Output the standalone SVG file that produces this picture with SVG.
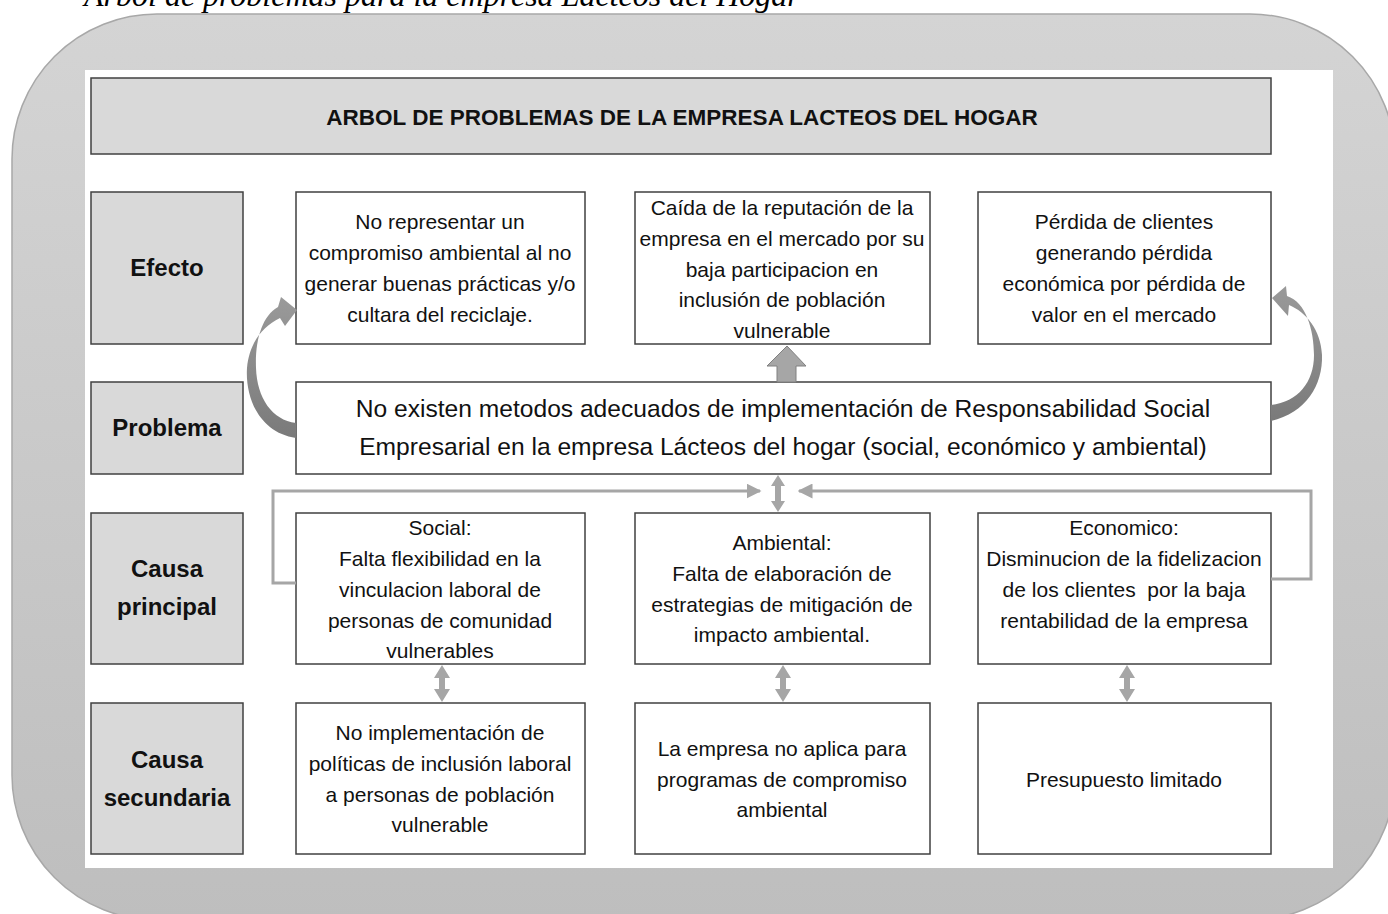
<svg xmlns="http://www.w3.org/2000/svg" width="1388" height="914" viewBox="0 0 1388 914">
<defs>
<linearGradient id="bg" x1="0" y1="0" x2="0" y2="1">
<stop offset="0" stop-color="#d4d4d4"/>
<stop offset="1" stop-color="#bebebe"/>
</linearGradient>
<linearGradient id="curv" x1="0" y1="0" x2="0" y2="1">
<stop offset="0" stop-color="#9a9a9a"/>
<stop offset="1" stop-color="#7a7a7a"/>
</linearGradient>
<marker id="ah" viewBox="0 0 10 10" refX="9" refY="5" markerWidth="5" markerHeight="5" orient="auto" markerUnits="strokeWidth">
<path d="M0,0 L10,5 L0,10 Z" fill="#a6a6a6"/>
</marker>
</defs>
<style>
.box{fill:#ffffff;stroke:#404040;stroke-width:1.5}
.lab{fill:#d9d9d9;stroke:#404040;stroke-width:1.5}
.t{font-family:"Liberation Sans",Arial,sans-serif;font-size:21px;fill:#111;text-anchor:middle}
.lt{font-family:"Liberation Sans",Arial,sans-serif;font-size:24px;font-weight:bold;fill:#111;text-anchor:middle}
.pt{font-family:"Liberation Sans",Arial,sans-serif;font-size:24.6px;fill:#111;text-anchor:middle}
.line{fill:none;stroke:#a6a6a6;stroke-width:3}
.dbl{fill:#a6a6a6}
.cap{font-family:"Liberation Serif","Times New Roman",serif;font-style:italic;font-size:32px;fill:#000}
</style>

<text class="cap" x="84" y="6">Arbol de problemas para la empresa Lacteos del Hogar</text>

<rect x="12" y="14" width="1383" height="906" rx="145" ry="145" fill="url(#bg)" stroke="#a8a8a8" stroke-width="1.5"/>
<rect x="85" y="70" width="1248" height="798" fill="#ffffff"/>

<g id="title">
<rect class="lab" x="91" y="78" width="1180" height="76"/>
<text x="682" y="125" font-family="Liberation Sans,Arial,sans-serif" font-size="22.5px" font-weight="bold" fill="#111" text-anchor="middle">ARBOL DE PROBLEMAS DE LA EMPRESA LACTEOS DEL HOGAR</text>
</g>

<g id="label-efecto">
<rect class="lab" x="91" y="192" width="152" height="152"/>
<text class="lt" x="167" y="276">Efecto</text>
</g>
<g id="label-problema">
<rect class="lab" x="91" y="382" width="152" height="92"/>
<text class="lt" x="167" y="436">Problema</text>
</g>
<g id="label-causa-principal">
<rect class="lab" x="91" y="513" width="152" height="151"/>
<text class="lt" x="167" y="577">Causa</text>
<text class="lt" x="167" y="615">principal</text>
</g>
<g id="label-causa-secundaria">
<rect class="lab" x="91" y="703" width="152" height="151"/>
<text class="lt" x="167" y="768">Causa</text>
<text class="lt" x="167" y="806">secundaria</text>
</g>

<g id="efecto-1">
<rect class="box" x="296" y="192" width="289" height="152"/>
<text class="t" x="440" y="229">No representar un</text>
<text class="t" x="440" y="260">compromiso ambiental al no</text>
<text class="t" x="440" y="291">generar buenas prácticas y/o</text>
<text class="t" x="440" y="322">cultara del reciclaje.</text>
</g>
<g id="efecto-2">
<rect class="box" x="635" y="192" width="295" height="152"/>
<text class="t" x="782" y="215">Caída de la reputación de la</text>
<text class="t" x="782" y="246">empresa en el mercado por su</text>
<text class="t" x="782" y="277">baja participacion en</text>
<text class="t" x="782" y="307">inclusión de población</text>
<text class="t" x="782" y="338">vulnerable</text>
</g>
<g id="efecto-3">
<rect class="box" x="978" y="192" width="293" height="152"/>
<text class="t" x="1124" y="229">Pérdida de clientes</text>
<text class="t" x="1124" y="260">generando pérdida</text>
<text class="t" x="1124" y="291">económica por pérdida de</text>
<text class="t" x="1124" y="322">valor en el mercado</text>
</g>

<g id="problema">
<rect class="box" x="296" y="382" width="975" height="92"/>
<text class="pt" x="783" y="417">No existen metodos adecuados de implementación de Responsabilidad Social</text>
<text class="pt" x="783" y="455">Empresarial en la empresa Lácteos del hogar (social, económico y ambiental)</text>
</g>

<g id="causa-social">
<rect class="box" x="296" y="513" width="289" height="151"/>
<text class="t" x="440" y="535">Social:</text>
<text class="t" x="440" y="566">Falta flexibilidad en la</text>
<text class="t" x="440" y="597">vinculacion laboral de</text>
<text class="t" x="440" y="628">personas de comunidad</text>
<text class="t" x="440" y="658">vulnerables</text>
</g>
<g id="causa-ambiental">
<rect class="box" x="635" y="513" width="295" height="151"/>
<text class="t" x="782" y="550">Ambiental:</text>
<text class="t" x="782" y="581">Falta de elaboración de</text>
<text class="t" x="782" y="612">estrategias de mitigación de</text>
<text class="t" x="782" y="642">impacto ambiental.</text>
</g>
<g id="causa-economico">
<rect class="box" x="978" y="513" width="293" height="151"/>
<text class="t" x="1124" y="535">Economico:</text>
<text class="t" x="1124" y="566">Disminucion de la fidelizacion</text>
<text class="t" x="1124" y="597" xml:space="preserve">de los clientes  por la baja</text>
<text class="t" x="1124" y="628">rentabilidad de la empresa</text>
</g>

<g id="secundaria-1">
<rect class="box" x="296" y="703" width="289" height="151"/>
<text class="t" x="440" y="740">No implementación de</text>
<text class="t" x="440" y="771">políticas de inclusión laboral</text>
<text class="t" x="440" y="802">a personas de población</text>
<text class="t" x="440" y="832">vulnerable</text>
</g>
<g id="secundaria-2">
<rect class="box" x="635" y="703" width="295" height="151"/>
<text class="t" x="782" y="756">La empresa no aplica para</text>
<text class="t" x="782" y="787">programas de compromiso</text>
<text class="t" x="782" y="817">ambiental</text>
</g>
<g id="secundaria-3">
<rect class="box" x="978" y="703" width="293" height="151"/>
<text class="t" x="1124" y="787">Presupuesto limitado</text>
</g>

<g id="connectors">
<path d="M296 438 C261 433,245 400,247 368 C249 345,261 327,280 318 L285 326 L297 310 L281 297 L278 307 C262 316,255 340,256 368 C257 398,272 420,296 423 Z" fill="url(#curv)"/>
<path d="M1271 421 C1306 413,1323 385,1322 355 C1321 330,1306 312,1289 305 L1288 316 L1272 298 L1286 286 L1287 296 C1306 302,1314 330,1314 355 C1314 382,1298 402,1271 405 Z" fill="url(#curv)"/>
<path d="M787 346 L806 366 L796 366 L796 382 L777 382 L777 366 L767 366 Z" fill="#a6a6a6" stroke="#808080" stroke-width="1"/>
<path class="line" d="M296 583 L273 583 L273 491 L760 491" marker-end="url(#ah)"/>
<path class="line" d="M1271 579 L1311 579 L1311 491 L799 491" marker-end="url(#ah)"/>
<path class="dbl" d="M778 475 L785 486 L781 486 L781 501 L785 501 L778 512 L771 501 L775 501 L775 486 L771 486 Z"/>
<path class="dbl" d="M442 665 L450 678 L445 678 L445 689 L450 689 L442 702 L434 689 L439 689 L439 678 L434 678 Z"/>
<path class="dbl" d="M783 665 L791 678 L786 678 L786 689 L791 689 L783 702 L775 689 L780 689 L780 678 L775 678 Z"/>
<path class="dbl" d="M1127 665 L1135 678 L1130 678 L1130 689 L1135 689 L1127 702 L1119 689 L1124 689 L1124 678 L1119 678 Z"/>
</g>
</svg>
